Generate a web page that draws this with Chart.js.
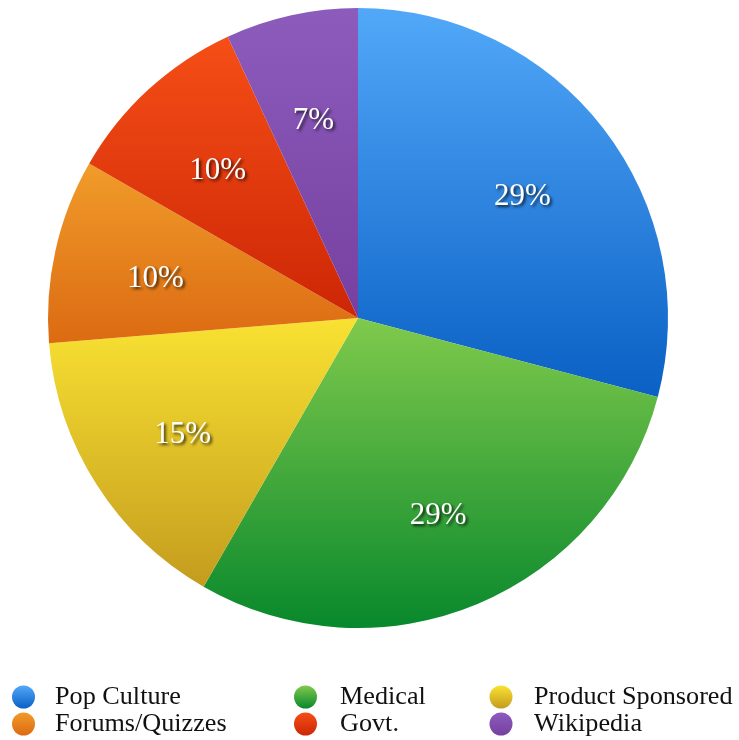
<!DOCTYPE html>
<html>
<head>
<meta charset="utf-8">
<script src="https://cdn.jsdelivr.net/npm/chart.js@4/dist/chart.umd.min.js"></script>
<style>
html,body{margin:0;padding:0;background:#fff;}
canvas{display:block;}
</style>
</head>
<body>
<canvas id="c" width="739" height="740"></canvas>
<script>
const categories = ['Pop Culture', 'Medical', 'Product Sponsored', 'Forums/Quizzes', 'Govt.', 'Wikipedia'];
const shares = [29.1, 29.2, 15.4, 9.6, 9.8, 6.9];
const topColors = ['#52a8f8', '#80ca4c', '#f9e232', '#f09c2a', '#f64e16', '#8c5cbc'];
const bottomColors = ['#0a60c4', '#08882c', '#c49c1e', '#dc6a12', '#cc2606', '#7640a0'];

const SERIF = '"Liberation Serif", "Times New Roman", serif';

function sliceGradient(ctx) {
  const chart = ctx.chart;
  const i = ctx.dataIndex;
  const area = chart.chartArea;
  if (!area) return topColors[i];
  const cx = (area.left + area.right) / 2, cy = (area.top + area.bottom) / 2;
  const R = Math.min(area.right - area.left, area.bottom - area.top) / 2;
  const total = shares.reduce((a, b) => a + b, 0);
  let before = 0;
  for (let k = 0; k < i; k++) before += shares[k];
  const a0 = before / total * Math.PI * 2;
  const a1 = (before + shares[i]) / total * Math.PI * 2;
  const ys = [cy, cy - R * Math.cos(a0), cy - R * Math.cos(a1)];
  if (a0 <= 0) ys.push(cy - R);
  if (a0 <= Math.PI && a1 >= Math.PI) ys.push(cy + R);
  const y0 = Math.min(...ys), y1 = Math.max(...ys);
  const g = chart.ctx.createLinearGradient(0, y0, 0, y1);
  g.addColorStop(0, topColors[i]);
  g.addColorStop(1, bottomColors[i]);
  return g;
}

const labelPlugin = {
  id: 'sliceLabels',
  afterDatasetsDraw(chart) {
    const ctx = chart.ctx;
    const meta = chart.getDatasetMeta(0);
    const total = shares.reduce((a, b) => a + b, 0);
    ctx.save();
    ctx.font = '31px ' + SERIF;
    ctx.textAlign = 'center';
    ctx.textBaseline = 'middle';
    ctx.fillStyle = '#ffffff';
    ctx.shadowColor = 'rgba(0,0,0,0.75)';
    ctx.shadowOffsetX = 2;
    ctx.shadowOffsetY = 2;
    ctx.shadowBlur = 3;
    meta.data.forEach((arc, i) => {
      const mid = (arc.startAngle + arc.endAngle) / 2;
      const r = arc.outerRadius * 0.67;
      const x = arc.x + Math.cos(mid) * r;
      const y = arc.y + Math.sin(mid) * r + 6;
      ctx.fillText(Math.round(shares[i] / total * 100) + '%', x, y);
    });
    ctx.restore();
  }
};

const legendPlugin = {
  id: 'gridLegend',
  afterDraw(chart) {
    const ctx = chart.ctx;
    const colX = [23.5, 305.5, 501];
    const textX = [55, 340, 534];
    const rowY = [697, 724];
    ctx.save();
    ctx.font = '26.2px ' + SERIF;
    ctx.textAlign = 'left';
    ctx.textBaseline = 'alphabetic';
    categories.forEach((name, i) => {
      const col = i % 3, row = Math.floor(i / 3);
      const cx = colX[col], cy = rowY[row], r = 11.5;
      const g = ctx.createLinearGradient(0, cy - r, 0, cy + r);
      g.addColorStop(0, topColors[i]);
      g.addColorStop(1, bottomColors[i]);
      ctx.beginPath();
      ctx.arc(cx, cy, r, 0, Math.PI * 2);
      ctx.fillStyle = g;
      ctx.fill();
      ctx.fillStyle = '#111111';
      ctx.fillText(name, textX[col], cy + 7);
    });
    ctx.restore();
  }
};

new Chart(document.getElementById('c'), {
  type: 'pie',
  data: {
    labels: categories,
    datasets: [{
      data: shares,
      backgroundColor: sliceGradient,
      borderWidth: 0,
      hoverOffset: 0
    }]
  },
  options: {
    responsive: false,
    animation: false,
    layout: { padding: { left: 48, right: 71, top: 8, bottom: 112 } },
    plugins: {
      legend: { display: false },
      tooltip: { enabled: false }
    }
  },
  plugins: [labelPlugin, legendPlugin]
});
</script>
</body>
</html>
